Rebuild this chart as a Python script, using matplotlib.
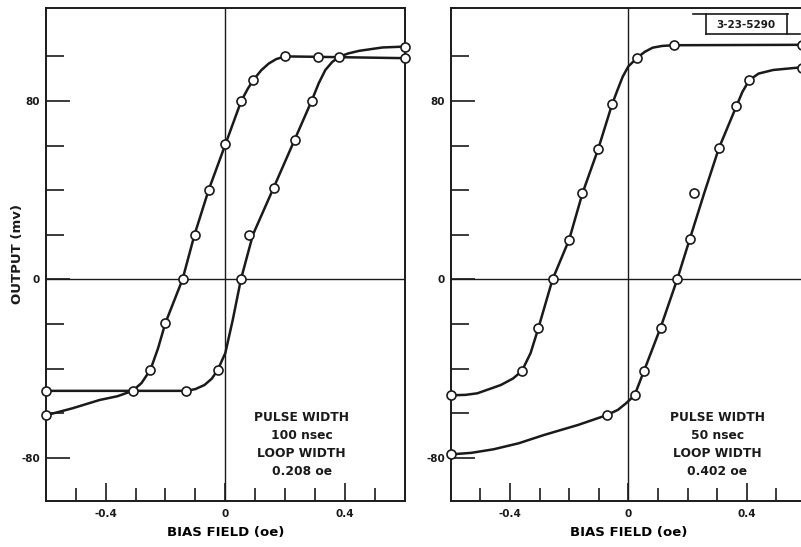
import numpy as np
import matplotlib.pyplot as plt
from matplotlib.lines import Line2D

# ---- data ----
# left panel, 100 nsec pulse
a_x = [-0.60, -0.31, -0.25, -0.20, -0.143, -0.103, -0.056, 0.0, 0.053, 0.094, 0.20, 0.308, 0.60]
a_y = [-61, -50, -40.5, -19.5, 0, 20, 40, 60.5, 80, 89.5, 100, 99.8, 99.2]
# points
a_line_x = [-0.60, -0.51, -0.42, -0.36, -0.31, -0.28, -0.25, -0.225, -0.20, -0.143, -0.103,
            -0.056, 0.0, 0.053, 0.075, 0.094, 0.12, 0.145, 0.17, 0.20, 0.308, 0.60]
a_line_y = [-61, -57.8, -54.1, -52.4, -50, -46.5, -40.5, -31, -19.5, 0, 20,
            40, 60.5, 80, 85.5, 89.5, 93.8, 96.8, 98.8, 100, 99.8, 99.2]

b_x = [-0.60, -0.13, -0.025, 0.052, 0.078, 0.161, 0.231, 0.288, 0.380, 0.60]
b_y = [-50, -50, -40.5, 0, 20, 41, 62.5, 80, 99.8, 104.4]
b_line_x = [-0.60, -0.13, -0.10, -0.07, -0.045, -0.025, 0.0, 0.025, 0.052, 0.092, 0.161,
            0.231, 0.288, 0.312, 0.334, 0.357, 0.380, 0.41, 0.447, 0.525, 0.60]
b_line_y = [-50, -50, -49.2, -47.4, -44.5, -40.5, -33, -18, 0, 20, 41,
            62.5, 80, 88, 93.9, 97.5, 99.8, 101.3, 102.5, 104, 104.4]

# right panel, 50 nsec pulse
c_x = [-0.60, -0.36, -0.304, -0.256, -0.20, -0.155, -0.102, -0.055, 0.030, 0.154, 0.585]
c_y = [-52, -41.2, -21.9, 0, 17.8, 38.6, 58.4, 78.5, 99.4, 105, 105.2]
c_line_x = [-0.60, -0.55, -0.51, -0.431, -0.39, -0.36, -0.33, -0.304, -0.256, -0.20, -0.155,
            -0.102, -0.055, -0.035, -0.019, 0.0, 0.030, 0.055, 0.082, 0.115, 0.154, 0.60]
c_line_y = [-52, -51.8, -51.1, -47.4, -44.5, -41.2, -33, -21.9, 0, 17.8, 38.6,
            58.4, 78.5, 85.5, 90.9, 95.5, 99.4, 102, 103.9, 104.7, 105, 105.2]

d_x = [-0.60, -0.071, 0.021, 0.053, 0.109, 0.165, 0.208, 0.221, 0.306, 0.365, 0.408, 0.585]
d_y = [-78.5, -60.8, -52, -41, -21.6, 0, 18.3, 38.9, 58.9, 77.7, 89.3, 95]
d_line_x = [-0.60, -0.53, -0.455, -0.37, -0.285, -0.17, -0.071, -0.035, -0.008, 0.021, 0.053,
            0.109, 0.165, 0.208, 0.257, 0.306, 0.365, 0.385, 0.408, 0.44, 0.489, 0.60]
d_line_y = [-78.5, -77.8, -76.2, -73.5, -69.8, -65.3, -60.8, -58.5, -55.6, -52, -41,
            -21.6, 0, 18.3, 39, 58.9, 77.7, 84, 89.3, 92.3, 93.9, 95.3]

x_major = [-0.4, 0, 0.4]
x_minor = [-0.5, -0.3, -0.2, -0.1, 0.1, 0.2, 0.3, 0.5]
y_major = [-80, 0, 80]
y_minor = [-60, -40, -20, 20, 40, 60, 100]

notes = ["PULSE WIDTH\n100 nsec\nLOOP WIDTH\n0.208 oe",
         "PULSE WIDTH\n50 nsec\nLOOP WIDTH\n0.402 oe"]

plt.rcParams['font.family'] = 'DejaVu Sans'
plt.rcParams['font.weight'] = 'bold'

W, H = 801, 547
fig = plt.figure(figsize=(W / 100, H / 100), dpi=100)

def box(x0, x1, y0, y1):
    return [x0 / W, 1 - y1 / H, (x1 - x0) / W, (y1 - y0) / H]

ax1 = fig.add_axes(box(45.7, 405, 8, 501))
ax2 = fig.add_axes(box(450.7, 806, 8, 501))


def style(ax):
    ax.set_xlim(-0.6, 0.6)
    ax.set_ylim(-99.4, 121.7)
    for s in ax.spines.values():
        s.set_linewidth(1.4)
        s.set_color('#1a1a1a')
    ax.axhline(0, color='#1a1a1a', lw=1.0, zorder=1)
    ax.axvline(0, color='#1a1a1a', lw=1.0, zorder=1)
    ax.set_xticks(x_major)
    ax.set_xticklabels(['-0.4', '0', '0.4'])
    ax.set_xticks(x_minor, minor=True)
    ax.set_yticks(y_major)
    ax.set_yticklabels(['-80', '0', '80'])
    ax.set_yticks(y_minor, minor=True)
    ax.tick_params(axis='both', which='both', direction='in', colors='#1a1a1a',
                   labelsize=7.5, width=1.2, top=False, right=False)
    ax.tick_params(axis='y', which='major', length=17, pad=4)
    ax.tick_params(axis='y', which='minor', length=13)
    ax.tick_params(axis='x', which='major', length=13, pad=6)
    ax.tick_params(axis='x', which='minor', length=9.5)
    ax.set_xlabel('BIAS FIELD (oe)', fontsize=9.5, fontweight='bold', labelpad=5)


def branch(ax, lx, ly, mx, my):
    ax.plot(lx, ly, color='#1a1a1a', lw=1.8, zorder=2, clip_on=False,
            solid_joinstyle='round')
    ax.plot(mx, my, 'o', ms=6.5, mfc='white', mec='#1a1a1a', mew=1.2,
            zorder=3, clip_on=False)


style(ax1)
style(ax2)
branch(ax1, a_line_x, a_line_y, a_x, a_y)
branch(ax1, b_line_x, b_line_y, b_x, b_y)
branch(ax2, c_line_x, c_line_y, c_x, c_y)
branch(ax2, d_line_x, d_line_y, d_x, d_y)

ax1.text(0.255, -74, notes[0], ha='center', va='center', fontsize=8.8,
         fontweight='bold', linespacing=1.5, color='#1a1a1a')
ax2.text(0.30, -74, notes[1], ha='center', va='center', fontsize=8.8,
         fontweight='bold', linespacing=1.5, color='#1a1a1a')

fig.text(18 / W, 1 - 254 / H, 'OUTPUT (mv)', rotation=90, ha='center', va='center',
         fontsize=9.5, fontweight='bold', color='#1a1a1a')

# figure number tag, top right
tag = [((693, 788), (14, 14)), ((706, 706), (14, 34)), ((787, 787), (14, 34)),
       ((706, 800), (34, 34))]
for xs, ys in tag:
    fig.add_artist(Line2D([x / W for x in xs], [1 - y / H for y in ys],
                          color='#1a1a1a', lw=1.2))
fig.text(746 / W, 1 - 24.5 / H, '3-23-5290', ha='center', va='center',
         fontsize=7.5, fontweight='bold', color='#1a1a1a')

fig.savefig('out.png', dpi=100)
